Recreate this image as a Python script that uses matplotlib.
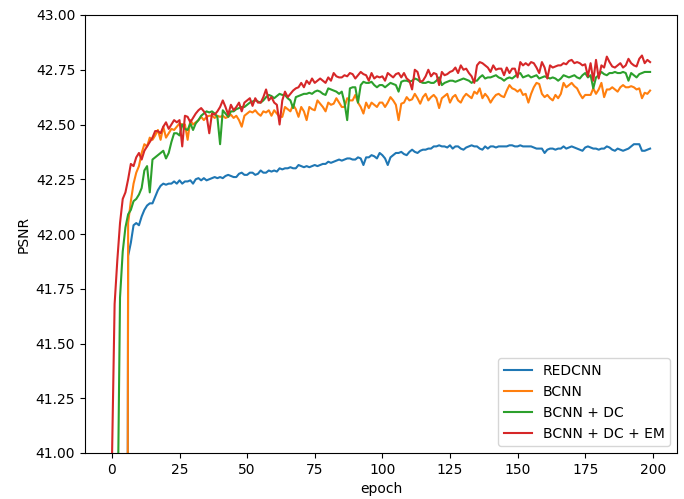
"""Curvas de PSNR por época: REDCNN vs. variantes do BCNN."""

import numpy as np
import matplotlib
matplotlib.use("Agg")
import matplotlib.pyplot as plt

# Valores (uma entrada por época, 0..199)
redcnn = [
    30.50, 32.00, 33.00, 33.80, 34.40, 35.00, 41.90, 41.96, 42.04, 42.05,
    42.04, 42.08, 42.11, 42.13, 42.14, 42.14, 42.17, 42.20, 42.22, 42.23,
    42.225, 42.23, 42.23, 42.24, 42.23, 42.245, 42.23, 42.24, 42.24, 42.245,
    42.23, 42.25, 42.255, 42.245, 42.255, 42.245, 42.25, 42.255, 42.26, 42.255,
    42.26, 42.255, 42.265, 42.27, 42.265, 42.26, 42.26, 42.275, 42.28, 42.27,
    42.27, 42.28, 42.28, 42.27, 42.275, 42.29, 42.28, 42.28, 42.29, 42.285,
    42.29, 42.285, 42.30, 42.295, 42.30, 42.30, 42.305, 42.30, 42.30, 42.315,
    42.31, 42.305, 42.31, 42.305, 42.31, 42.315, 42.31, 42.315, 42.32, 42.32,
    42.33, 42.325, 42.33, 42.335, 42.34, 42.335, 42.34, 42.345, 42.345, 42.34,
    42.34, 42.35, 42.345, 42.315, 42.35, 42.35, 42.36, 42.355, 42.345, 42.37,
    42.36, 42.345, 42.315, 42.35, 42.36, 42.37, 42.37, 42.375, 42.365, 42.36,
    42.375, 42.385, 42.375, 42.37, 42.38, 42.385, 42.385, 42.39, 42.39, 42.40,
    42.40, 42.405, 42.40, 42.40, 42.395, 42.405, 42.39, 42.40, 42.40, 42.39,
    42.385, 42.395, 42.40, 42.405, 42.40, 42.40, 42.39, 42.385, 42.40, 42.39,
    42.40, 42.40, 42.395, 42.40, 42.40, 42.40, 42.40, 42.405, 42.405, 42.40,
    42.40, 42.405, 42.40, 42.40, 42.40, 42.40, 42.395, 42.39, 42.39, 42.39,
    42.37, 42.385, 42.39, 42.39, 42.385, 42.39, 42.39, 42.40, 42.39, 42.395,
    42.40, 42.395, 42.39, 42.385, 42.38, 42.395, 42.40, 42.395, 42.39, 42.39,
    42.385, 42.39, 42.39, 42.40, 42.395, 42.385, 42.38, 42.39, 42.385, 42.38,
    42.385, 42.39, 42.40, 42.41, 42.41, 42.41, 42.38, 42.38, 42.385, 42.39,
]

bcnn = [
    28.00, 30.50, 31.80, 32.70, 33.40, 34.00, 42.05, 42.15, 42.23, 42.28,
    42.31, 42.37, 42.41, 42.40, 42.44, 42.43, 42.45, 42.475, 42.43, 42.49,
    42.44, 42.46, 42.48, 42.475, 42.49, 42.505, 42.50, 42.50, 42.43, 42.52,
    42.50, 42.51, 42.52, 42.535, 42.52, 42.535, 42.54, 42.54, 42.53, 42.54,
    42.535, 42.54, 42.53, 42.535, 42.545, 42.53, 42.54, 42.52, 42.49, 42.54,
    42.55, 42.56, 42.555, 42.565, 42.55, 42.54, 42.56, 42.555, 42.565, 42.54,
    42.565, 42.55, 42.535, 42.535, 42.58, 42.57, 42.56, 42.59, 42.57, 42.535,
    42.58, 42.56, 42.52, 42.58, 42.57, 42.565, 42.61, 42.595, 42.58, 42.56,
    42.60, 42.59, 42.595, 42.62, 42.60, 42.58, 42.58, 42.62, 42.61, 42.61,
    42.635, 42.60, 42.58, 42.55, 42.60, 42.575, 42.60, 42.59, 42.58, 42.60,
    42.60, 42.58, 42.60, 42.625, 42.61, 42.59, 42.52, 42.595, 42.60, 42.625,
    42.61, 42.615, 42.64, 42.62, 42.595, 42.625, 42.64, 42.61, 42.625, 42.635,
    42.62, 42.575, 42.62, 42.63, 42.64, 42.60, 42.625, 42.635, 42.61, 42.60,
    42.625, 42.64, 42.63, 42.62, 42.65, 42.64, 42.665, 42.62, 42.64, 42.625,
    42.60, 42.62, 42.635, 42.64, 42.63, 42.625, 42.655, 42.68, 42.665, 42.66,
    42.65, 42.66, 42.635, 42.64, 42.60, 42.64, 42.67, 42.69, 42.685, 42.64,
    42.625, 42.635, 42.62, 42.61, 42.635, 42.62, 42.64, 42.69, 42.67, 42.68,
    42.69, 42.675, 42.665, 42.64, 42.62, 42.635, 42.635, 42.635, 42.665, 42.64,
    42.66, 42.69, 42.625, 42.66, 42.66, 42.67, 42.66, 42.65, 42.67, 42.68,
    42.67, 42.67, 42.675, 42.67, 42.66, 42.665, 42.62, 42.645, 42.64, 42.655,
]

bcnn_dc = [
    39.00, 40.00, 40.58, 41.71, 41.92, 42.03, 42.09, 42.11, 42.15, 42.16,
    42.18, 42.21, 42.29, 42.31, 42.19, 42.34, 42.35, 42.36, 42.37, 42.38,
    42.345, 42.37, 42.42, 42.46, 42.46, 42.45, 42.50, 42.48, 42.475, 42.505,
    42.475, 42.505, 42.52, 42.54, 42.55, 42.56, 42.555, 42.56, 42.55, 42.535,
    42.41, 42.565, 42.55, 42.535, 42.56, 42.56, 42.57, 42.575, 42.58, 42.58,
    42.59, 42.60, 42.605, 42.61, 42.605, 42.60, 42.61, 42.625, 42.635, 42.63,
    42.62, 42.63, 42.64, 42.635, 42.635, 42.62, 42.61, 42.575, 42.625, 42.63,
    42.635, 42.64, 42.64, 42.645, 42.64, 42.65, 42.655, 42.65, 42.64, 42.635,
    42.665, 42.66, 42.655, 42.65, 42.64, 42.65, 42.60, 42.52, 42.665, 42.67,
    42.67, 42.60, 42.68, 42.695, 42.69, 42.69, 42.695, 42.68, 42.67, 42.68,
    42.68, 42.67, 42.68, 42.69, 42.685, 42.68, 42.65, 42.695, 42.70, 42.70,
    42.695, 42.70, 42.71, 42.705, 42.695, 42.69, 42.69, 42.695, 42.69, 42.69,
    42.70, 42.715, 42.68, 42.69, 42.695, 42.70, 42.70, 42.695, 42.70, 42.705,
    42.71, 42.705, 42.70, 42.69, 42.70, 42.70, 42.715, 42.725, 42.71, 42.715,
    42.715, 42.72, 42.725, 42.715, 42.71, 42.70, 42.71, 42.715, 42.71, 42.72,
    42.73, 42.735, 42.715, 42.72, 42.725, 42.715, 42.72, 42.725, 42.71, 42.715,
    42.72, 42.715, 42.71, 42.715, 42.71, 42.70, 42.71, 42.725, 42.72, 42.715,
    42.72, 42.725, 42.715, 42.71, 42.725, 42.735, 42.715, 42.725, 42.665, 42.715,
    42.725, 42.74, 42.73, 42.725, 42.735, 42.735, 42.74, 42.735, 42.735, 42.74,
    42.735, 42.70, 42.735, 42.725, 42.715, 42.73, 42.735, 42.74, 42.74, 42.74,
]

bcnn_dc_em = [
    40.95, 41.68, 41.88, 42.05, 42.16, 42.19, 42.25, 42.32, 42.31, 42.35,
    42.37, 42.34, 42.38, 42.40, 42.42, 42.44, 42.47, 42.47, 42.46, 42.49,
    42.51, 42.48, 42.50, 42.52, 42.51, 42.52, 42.40, 42.54, 42.535, 42.51,
    42.53, 42.55, 42.565, 42.575, 42.56, 42.54, 42.46, 42.55, 42.545, 42.56,
    42.58, 42.61, 42.58, 42.545, 42.59, 42.565, 42.58, 42.60, 42.56, 42.60,
    42.61, 42.62, 42.585, 42.62, 42.60, 42.60, 42.625, 42.66, 42.61, 42.625,
    42.60, 42.59, 42.50, 42.61, 42.65, 42.625, 42.64, 42.655, 42.665, 42.67,
    42.69, 42.67, 42.70, 42.685, 42.71, 42.69, 42.70, 42.71, 42.70, 42.69,
    42.715, 42.70, 42.735, 42.72, 42.715, 42.715, 42.725, 42.72, 42.735, 42.73,
    42.71, 42.725, 42.74, 42.73, 42.725, 42.70, 42.735, 42.71, 42.72, 42.715,
    42.72, 42.70, 42.735, 42.725, 42.715, 42.73, 42.735, 42.715, 42.735, 42.71,
    42.70, 42.66, 42.75, 42.74, 42.695, 42.70, 42.72, 42.75, 42.72, 42.735,
    42.73, 42.68, 42.74, 42.725, 42.73, 42.74, 42.745, 42.76, 42.735, 42.77,
    42.75, 42.755, 42.735, 42.72, 42.69, 42.77, 42.785, 42.78, 42.77, 42.76,
    42.74, 42.77, 42.75, 42.755, 42.755, 42.725, 42.76, 42.735, 42.755, 42.755,
    42.715, 42.785, 42.77, 42.78, 42.77, 42.785, 42.78, 42.76, 42.735, 42.785,
    42.76, 42.71, 42.77, 42.76, 42.765, 42.77, 42.77, 42.78, 42.775, 42.79,
    42.795, 42.78, 42.785, 42.78, 42.77, 42.775, 42.72, 42.78, 42.70, 42.795,
    42.71, 42.77, 42.76, 42.81, 42.785, 42.765, 42.76, 42.77, 42.78, 42.76,
    42.77, 42.80, 42.78, 42.77, 42.765, 42.80, 42.815, 42.78, 42.795, 42.785,
]

series = [
    ("REDCNN", redcnn),
    ("BCNN", bcnn),
    ("BCNN + DC", bcnn_dc),
    ("BCNN + DC + EM", bcnn_dc_em),
]

fig = plt.figure(figsize=(6.84, 4.99), dpi=100)
ax = fig.add_axes([85 / 684, 1 - 453 / 499, 592 / 684, 438 / 499])

for nome, valores in series:
    ax.plot(np.arange(len(valores)), valores, label=nome)

ax.set_ylim(41.0, 43.0)
ax.set_xlabel("epoch")
ax.set_ylabel("PSNR")
ax.legend(loc="lower right")

fig.savefig("out.png", dpi=100)
